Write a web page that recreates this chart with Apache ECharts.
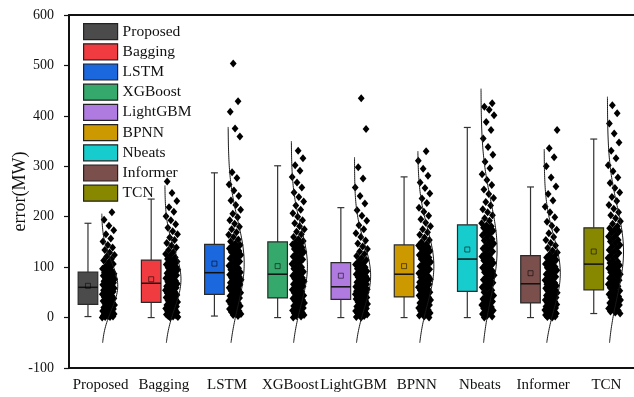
<!DOCTYPE html>
<html>
<head>
    <meta charset="utf-8">
    <title>error(MW) box chart</title>
    <script src="https://cdn.jsdelivr.net/npm/echarts@6/dist/echarts.min.js"></script>
    <style>
        html, body { margin: 0; padding: 0; background: #fff; }
    </style>
</head>
<body>
    <div id="main" style="width:634px;height:397px;"></div>

    <script type="text/javascript">
        // models and their box colours
        var models = ['Proposed', 'Bagging', 'LSTM', 'XGBoost', 'LightGBM', 'BPNN', 'Nbeats', 'Informer', 'TCN'];
        var colors = ['#4b4b4b', '#f03c40', '#1b67dd', '#35a86b', '#b07be0', '#cc9900', '#17cccc', '#7a4f4c', '#878800'];

        // box statistics (MW)
        var lowWhisker  = [2, 0, 3, 0, 0, 0, 0, 0, 8];
        var q1          = [26, 30, 46, 39, 36, 41, 52, 29, 55];
        var median      = [60, 68, 89, 86, 61, 86, 116, 67, 106];
        var q3          = [90, 114, 145, 150, 109, 144, 184, 123, 178];
        var highWhisker = [187, 235, 287, 301, 218, 279, 377, 259, 354];
        var mean        = [63, 76, 107, 102, 83, 102, 135, 88, 131];

        // normal curve: sd and the value range it is drawn over
        var sd        = [48, 58, 85, 77, 65, 75, 97, 72, 90];
        var curveFrom = [-50, -50, -50, -50, -50, -50, -50, -50, -50];
        var curveTo   = [209, 265, 380, 353, 320, 330, 457, 336, 440];

        // individual errors (estimated from the point clouds)
        var errProposed = [0,1,1,2,3,4,5,6,7,8,9,11,12,13,14,16,17,18,20,21,23,25,
            27,28,30,31,33,35,36,38,39,41,43,44,46,48,49,51,52,54,55,57,58,59,
            61,62,63,65,66,68,69,70,72,73,75,76,77,79,80,81,83,84,86,87,88,89,
            92,94,97,100,102,106,109,113,116,121,124,129,134,139,144,151,157,165,173,182,194,209];
        var errBagging = [0,1,2,3,4,5,6,8,9,10,12,13,15,16,18,19,21,22,24,25,27,29,
            31,33,34,36,38,40,41,43,45,47,48,50,52,54,56,57,59,61,62,64,66,67,
            69,71,73,75,78,80,82,84,86,88,90,92,95,97,99,101,103,105,107,109,111,113,
            116,119,123,126,130,134,139,143,148,154,159,165,171,178,185,193,201,210,219,231,247,270];
        var errLSTM = [3,5,7,9,11,13,15,17,19,21,23,25,27,29,31,33,35,37,39,41,43,45,
            47,49,51,53,55,57,59,61,63,65,67,69,71,73,75,77,79,81,83,85,87,88,
            90,93,95,98,101,103,106,108,111,114,117,119,122,124,127,130,132,135,137,140,142,144,
            147,151,155,160,164,169,175,180,186,193,199,206,214,223,232,241,252,264,277,288,359,375,408,429,504];
        var errXGBoost = [0,2,3,5,7,8,10,12,14,15,17,19,21,23,25,27,29,31,33,35,37,38,
            40,42,44,46,49,51,53,55,57,60,62,64,66,68,70,72,74,77,79,81,83,85,
            88,91,94,97,100,103,106,109,112,115,118,121,124,127,130,133,136,139,142,145,147,149,
            152,156,160,165,170,175,181,187,193,200,207,214,222,230,239,248,258,268,279,291,302,316,331];
        var errLightGBM = [0,1,3,4,6,7,9,10,12,13,15,17,18,20,22,24,25,27,29,31,33,35,
            37,38,39,40,42,43,44,45,46,48,49,50,51,52,54,55,56,57,58,59,60,61,
            62,64,66,68,70,72,74,76,78,80,82,84,86,88,90,92,94,97,100,103,105,108,
            111,114,118,122,126,131,136,141,147,153,160,167,175,183,192,202,213,226,241,258,276,298,374,435];
        var errBPNN = [0,2,4,5,7,9,11,13,15,17,19,21,23,25,27,29,31,33,35,37,39,40,
            42,44,46,48,50,52,54,56,58,60,62,64,66,68,70,72,74,76,78,80,82,85,
            88,90,93,96,99,102,105,107,110,113,116,119,121,124,127,130,132,135,138,140,142,143,
            146,150,154,159,164,169,175,181,188,195,202,210,218,227,236,246,257,268,281,295,311,330];
        var errNbeats = [0,2,4,7,9,11,14,16,18,21,23,25,28,30,32,35,37,39,42,44,47,50,
            54,57,60,63,66,69,72,75,78,81,84,87,90,93,96,99,102,105,108,111,113,115,
            118,121,124,127,131,134,137,140,143,147,150,153,156,160,163,166,169,172,175,178,181,183,
            187,192,197,203,209,215,222,229,237,245,254,263,273,284,296,309,323,338,355,372,388,401,412,418,425];
        var errInformer = [0,1,2,3,5,6,7,8,10,11,12,14,15,16,18,19,20,22,23,25,26,28,
            30,32,33,35,37,39,40,42,44,46,47,49,51,53,54,56,58,60,61,63,65,66,
            69,71,74,76,79,81,84,86,89,91,94,96,99,101,104,106,109,111,114,116,119,122,
            125,129,133,138,143,148,154,160,167,174,182,190,199,209,220,232,245,260,278,300,318,336,372];
        var errTCN = [8,10,12,14,16,18,21,23,25,27,29,31,33,35,38,40,42,44,46,48,51,53,
            57,59,62,64,66,69,71,74,76,78,81,83,86,88,90,93,95,98,100,102,104,105,
            108,111,114,118,121,124,128,131,134,138,141,144,148,151,154,158,161,164,168,171,174,177,
            181,186,191,197,203,209,216,223,231,239,248,257,267,278,290,302,316,331,347,365,385,405,421];

        var errors = [errProposed, errBagging, errLSTM, errXGBoost, errLightGBM, errBPNN, errNbeats, errInformer, errTCN];

        var fontFamily = '"Liberation Serif", "Times New Roman", serif';

        // box + whiskers + median + mean square, placed left of the category centre
        var renderBox = function (params, api) {
            var cat = api.value(0);
            var band = api.size([1, 0])[0];
            var cx = api.coord([cat, 0])[0] - band * 0.2;
            var w = band * 0.31;
            var cap = band * 0.11;
            var yLo = api.coord([cat, api.value(1)])[1];
            var yQ1 = api.coord([cat, api.value(2)])[1];
            var yMed = api.coord([cat, api.value(3)])[1];
            var yQ3 = api.coord([cat, api.value(4)])[1];
            var yHi = api.coord([cat, api.value(5)])[1];
            var yMean = api.coord([cat, api.value(6)])[1];
            var line = { stroke: '#333', lineWidth: 1.2 };
            return {
                type: 'group',
                children: [
                    { type: 'line', shape: { x1: cx, y1: yQ3, x2: cx, y2: yHi }, style: line },
                    { type: 'line', shape: { x1: cx, y1: yQ1, x2: cx, y2: yLo }, style: line },
                    { type: 'line', shape: { x1: cx - cap / 2, y1: yHi, x2: cx + cap / 2, y2: yHi }, style: line },
                    { type: 'line', shape: { x1: cx - cap / 2, y1: yLo, x2: cx + cap / 2, y2: yLo }, style: line },
                    {
                        type: 'rect',
                        shape: { x: cx - w / 2, y: yQ3, width: w, height: yQ1 - yQ3 },
                        style: { fill: api.visual('color'), stroke: '#2a2a2a', lineWidth: 1.2 }
                    },
                    { type: 'line', shape: { x1: cx - w / 2, y1: yMed, x2: cx + w / 2, y2: yMed }, style: { stroke: '#111', lineWidth: 1.5 } },
                    {
                        type: 'rect',
                        shape: { x: cx - 2.5, y: yMean - 2.5, width: 5, height: 5 },
                        style: { fill: 'none', stroke: 'rgba(0,0,0,0.55)', lineWidth: 1 }
                    }
                ]
            };
        };

        // jittered diamonds right of the category centre
        var renderPoint = function (params, api) {
            var cat = api.value(0);
            var band = api.size([1, 0])[0];
            var p = api.coord([cat, api.value(1)]);
            var frac = (api.value(2) * 0.6180339887 + cat * 0.37) % 1;
            var x = p[0] + band * (0.025 + frac * 0.2);
            var y = p[1];
            return {
                type: 'polygon',
                shape: { points: [[x, y - 4], [x + 3.4, y], [x, y + 4], [x - 3.4, y]] },
                style: { fill: '#000' }
            };
        };

        // normal curve standing on the category centre
        var renderCurve = function (params, api) {
            var cat = api.value(0);
            var band = api.size([1, 0])[0];
            var m = api.value(1), s = api.value(2), from = api.value(3), to = api.value(4);
            var base = api.coord([cat, 0])[0] + band * 0.016;
            var amp = band * 0.255;
            var pts = [];
            for (var v = from; v <= to; v += 4) {
                var y = api.coord([cat, v])[1];
                pts.push([base + amp * Math.exp(-(v - m) * (v - m) / (2 * s * s)), y]);
            }
            return {
                type: 'polyline',
                shape: { points: pts, smooth: 0.3 },
                style: { fill: 'none', stroke: '#1a1a1a', lineWidth: 1 }
            };
        };

        var series = [];
        models.forEach(function (name, i) {
            series.push({
                name: name,
                type: 'custom',
                renderItem: renderBox,
                itemStyle: { color: colors[i] },
                encode: { x: 0, y: [1, 2, 3, 4, 5, 6] },
                data: [[i, lowWhisker[i], q1[i], median[i], q3[i], highWhisker[i], mean[i]]],
                z: 2
            });
        });

        var pointData = [];
        errors.forEach(function (list, i) {
            list.forEach(function (v, k) {
                pointData.push([i, v, k]);
            });
        });
        series.push({
            name: 'points',
            type: 'custom',
            renderItem: renderPoint,
            encode: { x: 0, y: 1 },
            data: pointData,
            z: 3
        });

        var curveData = models.map(function (name, i) {
            return [i, mean[i], sd[i], curveFrom[i], curveTo[i]];
        });
        series.push({
            name: 'curve',
            type: 'custom',
            renderItem: renderCurve,
            encode: { x: 0, y: [3, 4] },
            data: curveData,
            z: 4
        });

        var myChart = echarts.init(document.getElementById('main'));
        var option = {
            animation: false,
            backgroundColor: '#fff',
            grid: { left: 69, right: -4, top: 15, bottom: 29, containLabel: false, outerBoundsMode: 'none' },
            legend: {
                data: models,
                orient: 'vertical',
                left: 83,
                top: 23,
                padding: 0,
                icon: 'rect',
                itemWidth: 34,
                itemHeight: 16,
                itemGap: 3,
                selectedMode: false,
                itemStyle: { borderColor: '#222', borderWidth: 1.2 },
                textStyle: { fontFamily: fontFamily, fontSize: 15.5, color: '#111' }
            },
            xAxis: [{
                type: 'category',
                data: models,
                boundaryGap: true,
                axisLine: { onZero: false, lineStyle: { color: '#111', width: 2 } },
                axisTick: { alignWithLabel: true, length: 5, lineStyle: { color: '#111', width: 2 } },
                axisLabel: { fontFamily: fontFamily, fontSize: 15, color: '#111', margin: 10, interval: 0 },
                splitLine: { show: false }
            }, {
                type: 'category',
                data: models,
                position: 'top',
                axisLine: { onZero: false, lineStyle: { color: '#111', width: 2 } },
                axisTick: { show: false },
                axisLabel: { show: false }
            }],
            yAxis: {
                type: 'value',
                min: -100,
                max: 600,
                interval: 100,
                name: 'error(MW)',
                nameLocation: 'middle',
                nameGap: 40,
                nameMoveOverlap: false,
                nameTextStyle: { fontFamily: fontFamily, fontSize: 18, color: '#111' },
                axisLine: { show: true, onZero: false, lineStyle: { color: '#111', width: 2 } },
                axisTick: { show: true, length: 5, lineStyle: { color: '#111', width: 1.2 } },
                axisLabel: { fontFamily: fontFamily, fontSize: 14, color: '#111', margin: 15 },
                splitLine: { show: false }
            },
            series: series
        };
        myChart.setOption(option);
    </script>
</body>
</html>
